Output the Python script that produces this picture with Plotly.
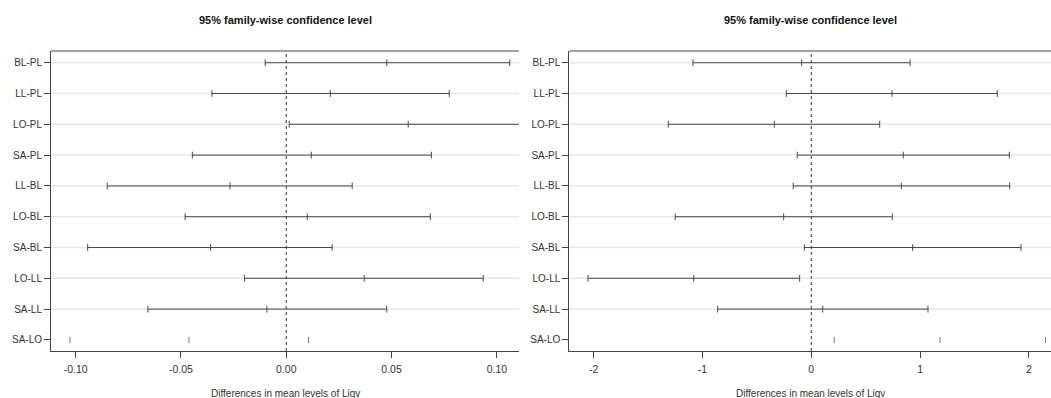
import plotly.graph_objects as go

comparisons = ["BL-PL", "LL-PL", "LO-PL", "SA-PL", "LL-BL", "LO-BL", "SA-BL", "LO-LL", "SA-LL", "SA-LO"]

# Left panel (first response)
left_lwr = [-0.0100, -0.0353, 0.0014, -0.0446, -0.0850, -0.0480, -0.0943, -0.0198, -0.0657, -0.1027]
left_diff = [0.0477, 0.0209, 0.0579, 0.0119, -0.0267, 0.0100, -0.0359, 0.0370, -0.0092, -0.0462]
left_upr = [0.1061, 0.0774, 0.1145, 0.0689, 0.0313, 0.0684, 0.0218, 0.0935, 0.0477, 0.0106]
left_ticks = [-0.10, -0.05, 0.00, 0.05, 0.10]
left_ticktext = ["-0.10", "-0.05", "0.00", "0.05", "0.10"]

# Right panel (second response)
right_lwr = [-1.088, -0.230, -1.315, -0.129, -0.166, -1.251, -0.064, -2.053, -0.861, 0.211]
right_diff = [-0.088, 0.742, -0.340, 0.846, 0.828, -0.254, 0.932, -1.081, 0.105, 1.183]
right_upr = [0.908, 1.710, 0.629, 1.821, 1.824, 0.745, 1.928, -0.107, 1.073, 2.152]
right_ticks = [-2, -1, 0, 1, 2]
right_ticktext = ["-2", "-1", "0", "1", "2"]

title_text = "95% family-wise confidence level"
xlabel_text = "Differences in mean levels of Liqv"

W, H = 1051, 398
FONT = "Liberation Sans, Arial, sans-serif"
LINE_C = "#4a4a4a"
GRID_C = "#e6e6e6"
AX_C = "#444444"
TXT_C = "#333333"

rows = list(range(1, len(comparisons) + 1))
TH = 0.11  # half tick height in row units

fig = go.Figure()
shapes = []


def add_panel(lwr, dif, upr, xa, ya):
    n = len(comparisons)
    lx, ly = [], []
    tx, ty = [], []
    gx, gy = [], []
    for i in range(n - 1):
        r = rows[i]
        lx += [lwr[i], upr[i], None]
        ly += [r, r, None]
        for v in (lwr[i], dif[i], upr[i]):
            tx += [v, v, None]
            ty += [r - TH, r + TH, None]
    # last comparison: ticks only, light
    r = rows[n - 1]
    for v in (lwr[n - 1], dif[n - 1], upr[n - 1]):
        gx += [v, v, None]
        gy += [r - 0.1, r + 0.1, None]
    fig.add_trace(go.Scatter(x=lx, y=ly, mode="lines", line=dict(color=LINE_C, width=1),
                             xaxis=xa, yaxis=ya, hoverinfo="skip", showlegend=False))
    fig.add_trace(go.Scatter(x=tx, y=ty, mode="lines", line=dict(color=LINE_C, width=1),
                             xaxis=xa, yaxis=ya, hoverinfo="skip", showlegend=False))
    fig.add_trace(go.Scatter(x=gx, y=gy, mode="lines", line=dict(color="#777777", width=1),
                             xaxis=xa, yaxis=ya, hoverinfo="skip", showlegend=False))
    xref = xa
    yref = ya
    for i in range(n - 1):
        shapes.append(dict(type="line", xref=xref + " domain", yref=yref, x0=0, x1=1,
                           y0=rows[i], y1=rows[i], line=dict(color=GRID_C, width=1.5), layer="below"))
    shapes.append(dict(type="line", xref=xref, yref=yref + " domain", x0=0, x1=0, y0=0, y1=1,
                       line=dict(color="#333333", width=1, dash="3px,3px")))
    shapes.append(dict(type="line", xref=xref + " domain", yref=yref + " domain", x0=0, x1=1, y0=1, y1=1,
                       line=dict(color=AX_C, width=1)))


add_panel(left_lwr, left_diff, left_upr, "x", "y")
add_panel(right_lwr, right_diff, right_upr, "x2", "y2")

ydom = [47 / H, (H - 51) / H]
yrange = [10.36, 0.62]


def xaxis_cfg(dom, rng, tv, tt):
    return dict(domain=dom, range=rng, tickvals=tv, ticktext=tt, showline=True, linecolor=AX_C,
                linewidth=1, ticks="outside", ticklen=6, tickcolor=AX_C, showgrid=False, zeroline=False,
                ticklabelstandoff=2,
                tickfont=dict(family=FONT, size=10.5, color=TXT_C), fixedrange=True)


def yaxis_cfg(anchor):
    return dict(domain=ydom, range=yrange, tickvals=rows, ticktext=comparisons, showline=True,
                linecolor=AX_C, linewidth=1, ticks="outside", ticklen=6, tickcolor=AX_C,
                showgrid=False, zeroline=False, anchor=anchor,
                tickfont=dict(family=FONT, size=10, color=TXT_C), fixedrange=True)


fig.update_layout(
    width=W, height=H,
    margin=dict(l=0, r=0, t=0, b=0),
    paper_bgcolor="white", plot_bgcolor="white",
    xaxis=xaxis_cfg([51 / W, 519 / W], [-0.1117, 0.1105], left_ticks, left_ticktext) | dict(anchor="y"),
    yaxis=yaxis_cfg("x"),
    xaxis2=xaxis_cfg([569.3 / W, 1.0], [-2.225, 2.204], right_ticks, right_ticktext) | dict(anchor="y2"),
    yaxis2=yaxis_cfg("x2"),
    shapes=shapes,
    showlegend=False,
)

annots = []
for cx in (285 / W, 810 / W):
    annots.append(dict(text="<b>" + title_text + "</b>", x=cx, y=(H - 20) / H, xref="paper", yref="paper",
                       xanchor="center", yanchor="middle", showarrow=False,
                       font=dict(family=FONT, size=11, color="#111111")))
    annots.append(dict(text=xlabel_text, x=cx, y=5 / H, xref="paper", yref="paper",
                       xanchor="center", yanchor="middle", showarrow=False,
                       font=dict(family=FONT, size=10, color=TXT_C)))
fig.update_layout(annotations=annots)

fig.write_html("out.html")
